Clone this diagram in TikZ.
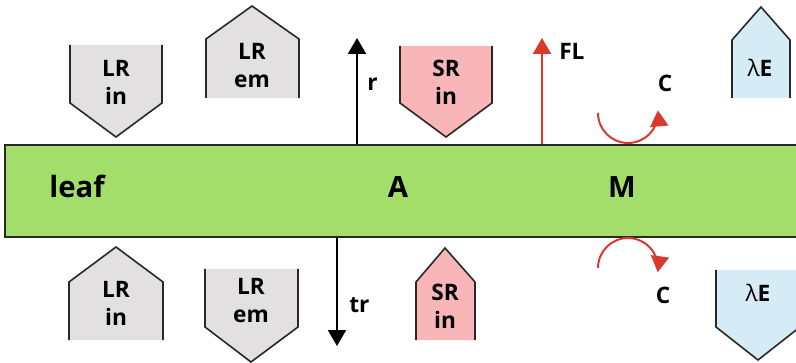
\documentclass[tikz,border=0pt]{standalone}
\usepackage{fontspec}
\setmainfont{Open Sans}
\usetikzlibrary{arrows.meta}
\definecolor{leafgreen}{RGB}{163,222,107}
\definecolor{boxgrey}{RGB}{226,224,225}
\definecolor{boxpink}{RGB}{248,182,184}
\definecolor{boxblue}{RGB}{213,236,247}
\definecolor{fluxred}{RGB}{217,58,43}
\definecolor{edgedark}{RGB}{40,40,40}
\begin{document}
\begin{tikzpicture}[x=0.75pt,y=0.75pt,yscale=-1,xscale=1,
	lbl/.style={font=\fontsize{17}{21}\selectfont\bfseries, align=center, inner sep=0.75pt},
	big/.style={font=\fontsize{22}{24}\selectfont\bfseries, inner sep=0.75pt, anchor=base},
	edge/.style={line width=1.2pt, color=edgedark},
	flux/.style={line width=1.5pt, -{Triangle[width=13.5pt,length=12pt]}},
	band/.style={draw=edgedark, fill=leafgreen, line width=1.6pt, minimum width=596.25pt, minimum height=69pt, inner sep=0pt}]
	\useasboundingbox (0,0) rectangle (796,363);
	%leaf band
	\node [band] (band) at (402.5,191) {};
	\node [big] (leaf) at (77,198) {leaf};
	\node [big] (A) at (398,198) {A};
	\node [big] (M) at (622,198) {M};
	%Shape: LR in, top
	\fill [boxgrey] (70,45) -- (70,103) -- (116,137) -- (162,103) -- (162,45) -- cycle ;
	\draw [edge] (70,45) -- (70,103) -- (116,137) -- (162,103) -- (162,45) ;
	\node [lbl] (lrinT) at (116,82) {LR\\in};
	%Shape: LR em, top
	\fill [boxgrey] (206,98) -- (206,39) -- (252,6) -- (299,39) -- (299,98) -- cycle ;
	\draw [edge] (206,98) -- (206,39) -- (252,6) -- (299,39) -- (299,98) ;
	\node [lbl] (lremT) at (252,66) {LR\\em};
	%Shape: SR in, top
	\fill [boxpink] (400,46) -- (400,103) -- (446,137) -- (492,103) -- (492,46) -- cycle ;
	\draw [edge] (400,46) -- (400,103) -- (446,137) -- (492,103) -- (492,46) ;
	\node [lbl] (srinT) at (446,82) {SR\\in};
	%Shape: lambda E, top
	\fill [boxblue] (732,98) -- (732,40) -- (761,7) -- (790,40) -- (790,98) -- cycle ;
	\draw [edge] (732,98) -- (732,40) -- (761,7) -- (790,40) -- (790,98) ;
	\node [lbl] (lamET) at (760,68) {\mdseries λ\bfseries E};
	%Shape: LR in, bottom
	\fill [boxgrey] (69,340) -- (69,282) -- (116,247) -- (163,282) -- (163,340) -- cycle ;
	\draw [edge] (69,340) -- (69,282) -- (116,247) -- (163,282) -- (163,340) ;
	\node [lbl] (lrinB) at (116,303) {LR\\in};
	%Shape: LR em, bottom
	\fill [boxgrey] (205,269) -- (205,327) -- (251,362) -- (298,327) -- (298,269) -- cycle ;
	\draw [edge] (205,269) -- (205,327) -- (251,362) -- (298,327) -- (298,269) ;
	\node [lbl] (lremB) at (251,301) {LR\\em};
	%Shape: SR in, bottom
	\fill [boxpink] (416,340) -- (416,282) -- (445,248) -- (475,282) -- (475,340) -- cycle ;
	\draw [edge] (416,340) -- (416,282) -- (445,248) -- (475,282) -- (475,340) ;
	\node [lbl] (srinB) at (445,306) {SR\\in};
	%Shape: lambda E, bottom
	\fill [boxblue] (716,270) -- (716,327) -- (758,360) -- (800,327) -- (800,270) -- cycle ;
	\draw [edge] (716,270) -- (716,327) -- (758,360) -- (800,327) -- (800,270) ;
	\node [lbl] (lamEB) at (758,293) {\mdseries λ\bfseries E};
	%fluxes
	\coordinate (rtip) at (357,38);
	\coordinate (fltip) at (542,38);
	\coordinate (trtip) at (337,346);
	\draw [flux] (band.north -| rtip) -- (rtip) ;
	\draw [flux, fluxred] (band.north -| fltip) -- (fltip) ;
	\draw [flux] (band.south -| trtip) -- (trtip) ;
	\node [lbl, anchor=west] (r) at (366,84) {r};
	\node [lbl, anchor=west] (FL) at (558,51) {FL};
	\node [lbl, anchor=west] (tr) at (348,305) {tr};
	%carbon arcs
	\draw [flux, fluxred] (598,113) arc [start angle=180, end angle=-5, radius=30] ;
	\draw [flux, fluxred] (598,268) arc [start angle=180, end angle=368, radius=30] ;
	\node [lbl] (Ctop) at (665,83) {C};
	\node [lbl] (Cbot) at (663,295) {C};
\end{tikzpicture}
\end{document}
